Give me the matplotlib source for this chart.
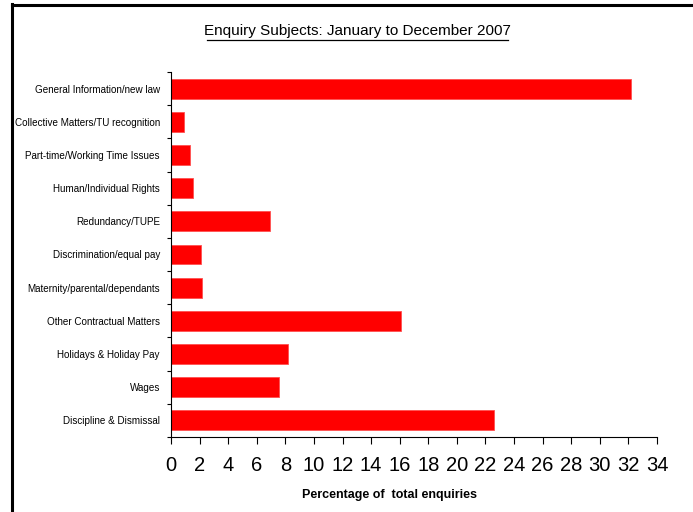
import matplotlib
matplotlib.use('Agg')
import matplotlib.pyplot as plt
from matplotlib.lines import Line2D

plt.rcParams['font.family'] = ['Liberation Sans', 'DejaVu Sans']

# categories listed bottom to top
categories = ['Discipline & Dismissal', 'Wages', 'Holidays & Holiday Pay',
              'Other Contractual Matters', 'Maternity/parental/dependants',
              'Discrimination/equal pay', 'Redundancy/TUPE',
              'Human/Individual Rights', 'Part-time/Working Time Issues',
              'Collective Matters/TU recognition', 'General Information/new law']
percent = [22.6, 7.55, 8.2, 16.1, 2.2, 2.1, 6.95, 1.55, 1.35, 0.9, 32.2]
xticks = list(range(0, 35, 2))

W, H = 693, 512
fig = plt.figure(figsize=(W / 100, H / 100), dpi=100)
ax = fig.add_axes([171 / W, 1 - 437 / H, (657 - 171) / W, (437 - 72) / H])

ypos = list(range(len(categories)))
ax.barh(ypos, percent, height=0.6, color='#ff0000', edgecolor='#ff5050', linewidth=0.6)

ax.set_xlim(0, 34)
ax.set_ylim(-0.5, len(categories) - 0.5)
ax.set_xticks(xticks)
ax.set_xticklabels([str(t) for t in xticks], fontsize=14.5)
ax.tick_params(axis='x', length=5, width=0.8, pad=9)

# category labels in the middle, ticks on the boundaries
ax.set_yticks(ypos)
ax.set_yticklabels(categories, fontsize=7.1)
ax.tick_params(axis='y', length=0, pad=8)
ax.set_yticks([y - 0.5 for y in range(len(categories) + 1)], minor=True)
ax.tick_params(axis='y', which='minor', length=3, width=0.8)

for s in ['top', 'right']:
    ax.spines[s].set_visible(False)
for s in ['left', 'bottom']:
    ax.spines[s].set_linewidth(0.8)

# title with underline
fig.text(357 / W, 1 - 31 / H, 'Enquiry Subjects: January to December 2007',
         ha='center', va='center', fontsize=11)
fig.add_artist(Line2D([207 / W, 508 / W], [1 - 40 / H, 1 - 40 / H], color='black', linewidth=0.9))

fig.text(390 / W, 1 - 495 / H, 'Percentage of  total enquiries', ha='center', va='center',
         fontsize=9, fontweight='bold')

# page frame
fig.add_artist(Line2D([12 / W, 12 / W], [0, 1 - 4 / H], color='black', linewidth=2.2))
fig.add_artist(Line2D([12 / W, 1], [1 - 5 / H, 1 - 5 / H], color='black', linewidth=2.2))

fig.savefig('out.png', dpi=100, facecolor='white')
